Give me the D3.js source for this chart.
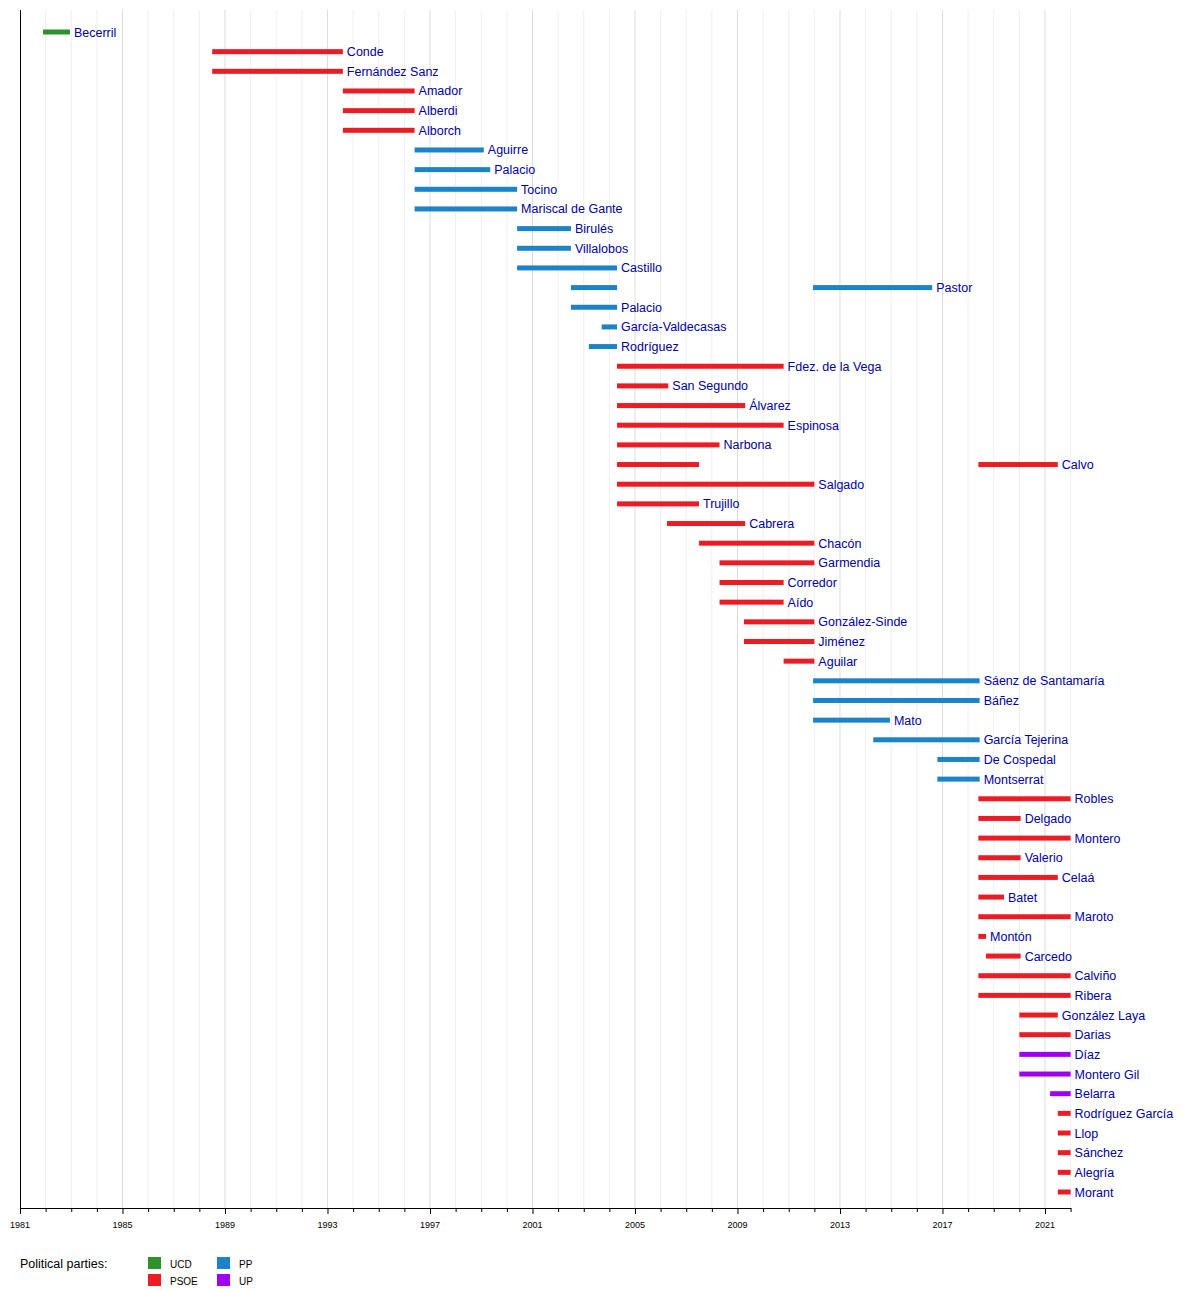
<!DOCTYPE html>
<html><head><meta charset="utf-8">
<script src="https://cdn.jsdelivr.net/npm/d3@7"></script>
<style>body{margin:0;background:#fff;font-family:"Liberation Sans",Arial,sans-serif}</style>
</head><body><svg id="c" width="1200" height="1290"></svg>
<script>
const names=["Becerril","Conde","Fernández Sanz","Amador","Alberdi","Alborch","Aguirre","Palacio","Tocino","Mariscal de Gante","Birulés","Villalobos","Castillo","Pastor","Palacio","García-Valdecasas","Rodríguez","Fdez. de la Vega","San Segundo","Álvarez","Espinosa","Narbona","Calvo","Salgado","Trujillo","Cabrera","Chacón","Garmendia","Corredor","Aído","González-Sinde","Jiménez","Aguilar","Sáenz de Santamaría","Báñez","Mato","García Tejerina","De Cospedal","Montserrat","Robles","Delgado","Montero","Valerio","Celaá","Batet","Maroto","Montón","Carcedo","Calviño","Ribera","González Laya","Darias","Díaz","Montero Gil","Belarra","Rodríguez García","Llop","Sánchez","Alegría","Morant"];
// [row, start, end, party]
const terms=[[0,1981.9,1982.95,"UCD"],[1,1988.5,1993.6,"PSOE"],[2,1988.5,1993.6,"PSOE"],[3,1993.6,1996.4,"PSOE"],[4,1993.6,1996.4,"PSOE"],[5,1993.6,1996.4,"PSOE"],
[6,1996.4,1999.1,"PP"],[7,1996.4,1999.35,"PP"],[8,1996.4,2000.4,"PP"],[9,1996.4,2000.4,"PP"],[10,2000.4,2002.5,"PP"],[11,2000.4,2002.5,"PP"],[12,2000.4,2004.3,"PP"],
[13,2002.5,2004.3,"PP"],[13,2011.95,2016.6,"PP"],[14,2002.5,2004.3,"PP"],[15,2003.7,2004.3,"PP"],[16,2003.2,2004.3,"PP"],
[17,2004.3,2010.8,"PSOE"],[18,2004.3,2006.3,"PSOE"],[19,2004.3,2009.3,"PSOE"],[20,2004.3,2010.8,"PSOE"],[21,2004.3,2008.3,"PSOE"],[22,2004.3,2007.5,"PSOE"],[22,2018.4,2021.5,"PSOE"],
[23,2004.3,2012.0,"PSOE"],[24,2004.3,2007.5,"PSOE"],[25,2006.25,2009.3,"PSOE"],[26,2007.5,2012.0,"PSOE"],[27,2008.3,2012.0,"PSOE"],[28,2008.3,2010.8,"PSOE"],[29,2008.3,2010.8,"PSOE"],
[30,2009.25,2012.0,"PSOE"],[31,2009.25,2012.0,"PSOE"],[32,2010.8,2012.0,"PSOE"],
[33,2011.95,2018.45,"PP"],[34,2011.95,2018.45,"PP"],[35,2011.95,2014.95,"PP"],[36,2014.3,2018.45,"PP"],[37,2016.8,2018.45,"PP"],[38,2016.8,2018.45,"PP"],
[39,2018.4,2022,"PSOE"],[40,2018.4,2020.05,"PSOE"],[41,2018.4,2022,"PSOE"],[42,2018.4,2020.05,"PSOE"],[43,2018.4,2021.5,"PSOE"],[44,2018.4,2019.4,"PSOE"],[45,2018.4,2022,"PSOE"],
[46,2018.4,2018.7,"PSOE"],[47,2018.7,2020.05,"PSOE"],[48,2018.4,2022,"PSOE"],[49,2018.4,2022,"PSOE"],[50,2020.0,2021.5,"PSOE"],[51,2020.0,2022,"PSOE"],
[52,2020.0,2022,"UP"],[53,2020.0,2022,"UP"],[54,2021.2,2022,"UP"],[55,2021.5,2022,"PSOE"],[56,2021.5,2022,"PSOE"],[57,2021.5,2022,"PSOE"],[58,2021.5,2022,"PSOE"],[59,2021.5,2022,"PSOE"]];
const parties=["UCD","PSOE","PP","UP"];
const colors=["#2e912e","#ec1c24","#1c83c8","#a000f0"];
const tickYears=d3.range(1981,2022,4);

const svg=d3.select("#c");
const x=d3.scaleLinear().domain([1981,2022]).range([20,1070.6]);
const y=d3.scalePoint().domain(d3.range(names.length)).range([32,1192]);
const col=d3.scaleOrdinal(parties,colors);
const yTop=10,base=1208;
svg.append("g").selectAll("line").data(d3.range(1982,2023)).join("line")
 .attr("x1",d=>x(d)).attr("x2",d=>x(d)).attr("y1",yTop).attr("y2",base)
 .attr("stroke",d=>(d-1981)%4===0?"#dcdcdc":"#efefef").attr("stroke-width",1);
const ax=svg.append("g").attr("transform",`translate(0,${base})`)
 .call(d3.axisBottom(x).tickValues(d3.range(1981,2023)).tickSize(4).tickFormat(""));
ax.select(".domain").remove();
ax.selectAll(".tick line").attr("y2",d=>(d-1981)%4===0?6:4).attr("stroke","#000");
svg.append("g").selectAll("text").data(tickYears).join("text")
 .attr("x",d=>x(d)).attr("y",base+20).attr("text-anchor","middle").attr("font-size",9).text(d=>d);
svg.append("line").attr("x1",20).attr("x2",1071).attr("y1",base+0.5).attr("y2",base+0.5).attr("stroke","#000");
svg.append("line").attr("x1",20.5).attr("x2",20.5).attr("y1",yTop).attr("y2",base).attr("stroke","#000");
svg.append("g").selectAll("rect").data(terms).join("rect")
 .attr("x",d=>x(d[1])).attr("width",d=>x(d[2])-x(d[1])).attr("y",d=>y(d[0])-2.5).attr("height",5)
 .attr("fill",d=>col(d[3]));
svg.append("g").selectAll("text").data(names).join("text")
 .attr("x",(n,i)=>{const t=terms.filter(d=>d[0]===i);return x(d3.max(t,d=>d[2]))+4;})
 .attr("y",(n,i)=>y(i)+4.5).attr("font-size",12.5).attr("fill","#0000a0").text(d=>d);
svg.append("text").attr("x",20).attr("y",1268).attr("font-size",12.5).text("Political parties:");
const lg=[["UCD",148,1257],["PSOE",148,1274],["PP",217,1257],["UP",217,1274]];
lg.forEach(([p,lx,ly])=>{svg.append("rect").attr("x",lx).attr("y",ly).attr("width",13).attr("height",12).attr("fill",col(p));
 svg.append("text").attr("x",lx+22).attr("y",ly+11).attr("font-size",10).text(p);});
</script></body></html>
